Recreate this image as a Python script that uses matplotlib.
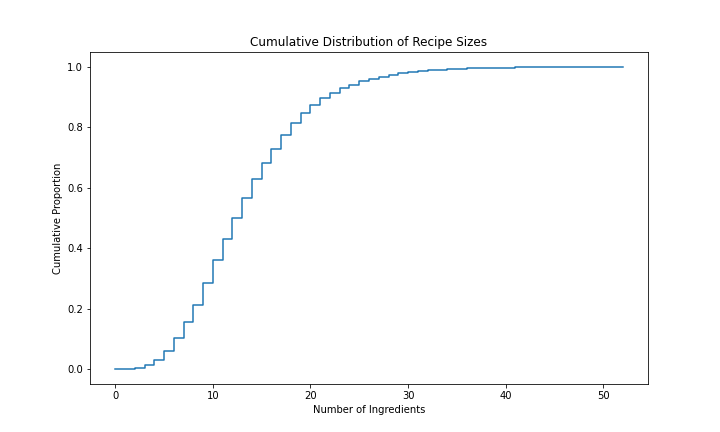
import matplotlib
matplotlib.use("Agg")
import matplotlib.pyplot as plt

# number of ingredients and cumulative proportion
sizes = list(range(0, 53))
cum_prop = [0.0, 0.0, 0.0, 0.003, 0.013, 0.03, 0.06, 0.105, 0.155, 0.213,
            0.285, 0.36, 0.432, 0.502, 0.568, 0.63, 0.682, 0.728, 0.775, 0.815,
            0.848, 0.874, 0.897, 0.915, 0.929, 0.941, 0.952, 0.961, 0.968, 0.974,
            0.979, 0.983, 0.986, 0.989, 0.991, 0.993, 0.994, 0.995, 0.996, 0.997,
            0.9975, 0.998, 0.9985, 0.999, 0.9993, 0.9995, 0.9996, 0.9997, 0.9998,
            0.9999, 0.9999, 1.0, 1.0]

fig = plt.figure(figsize=(10, 6), dpi=72)
plt.step(sizes, cum_prop)
plt.xlabel('Number of Ingredients')
plt.ylabel('Cumulative Proportion')
plt.title('Cumulative Distribution of Recipe Sizes')
plt.savefig('out.png', dpi=72)
